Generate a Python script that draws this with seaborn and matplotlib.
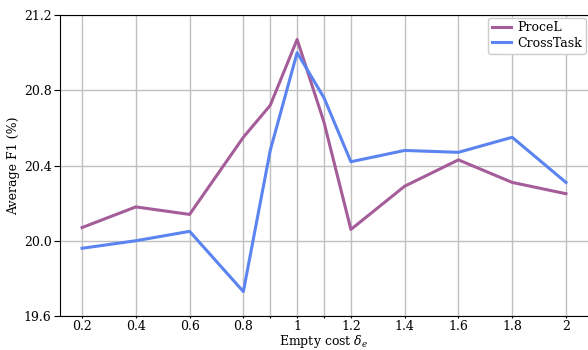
import matplotlib
matplotlib.use("Agg")
import matplotlib.pyplot as plt
import seaborn as sns
import pandas as pd

# empty cost values and average F1 per dataset
empty_cost = [0.2, 0.4, 0.6, 0.8, 0.9, 1.0, 1.1, 1.2, 1.4, 1.6, 1.8, 2.0]
procel_f1 = [20.07, 20.18, 20.14, 20.55, 20.72, 21.07, 20.63, 20.06, 20.29, 20.43, 20.31, 20.25]
crosstask_f1 = [19.96, 20.00, 20.05, 19.73, 20.48, 21.00, 20.76, 20.42, 20.48, 20.47, 20.55, 20.31]
tick_labels = ["0.2", "0.4", "0.6", "0.8", "", "1", "", "1.2", "1.4", "1.6", "1.8", "2"]

df = pd.concat([
    pd.DataFrame({"cost": empty_cost, "f1": procel_f1, "dataset": "ProceL"}),
    pd.DataFrame({"cost": empty_cost, "f1": crosstask_f1, "dataset": "CrossTask"}),
])

plt.rcParams["font.family"] = ["DejaVu Serif"]
plt.rcParams["mathtext.fontset"] = "dejavuserif"

fig = plt.figure(figsize=(5.88, 3.5), dpi=100)
ax = fig.add_axes([60 / 588, 1 - 316 / 350, 1 - 60 / 588, 301 / 350])

sns.lineplot(data=df, x="cost", y="f1", hue="dataset",
             palette={"ProceL": "#a55d9a", "CrossTask": "#5b84f0"},
             linewidth=2.2, ax=ax)

ax.set_xticks(empty_cost)
ax.set_xticklabels(tick_labels)
ax.set_yticks([19.6, 20.0, 20.4, 20.8, 21.2])
ax.set_yticklabels(["19.6", "20.0", "20.4", "20.8", "21.2"])
ax.set_xlim(0.118, 2.082)
ax.set_ylim(19.6, 21.2)
ax.grid(True, color="#c0c0c0", linewidth=1.0)
ax.set_axisbelow(True)
ax.tick_params(axis="x", length=1.5, pad=1.5, labelsize=9)
ax.tick_params(axis="y", length=4, pad=2, labelsize=9)
ax.spines["right"].set_visible(False)
ax.set_xlabel(r"Empty cost $\delta_e$", fontsize=9, labelpad=0)
ax.set_ylabel("Average F1 (%)", fontsize=9, labelpad=3)
ax.legend(title=None, loc="upper right", fontsize=9, handlelength=1.5,
          handletextpad=0.5, borderpad=0.3, labelspacing=0.2,
          borderaxespad=0.2, framealpha=1)

fig.savefig("out.png", dpi=100)
